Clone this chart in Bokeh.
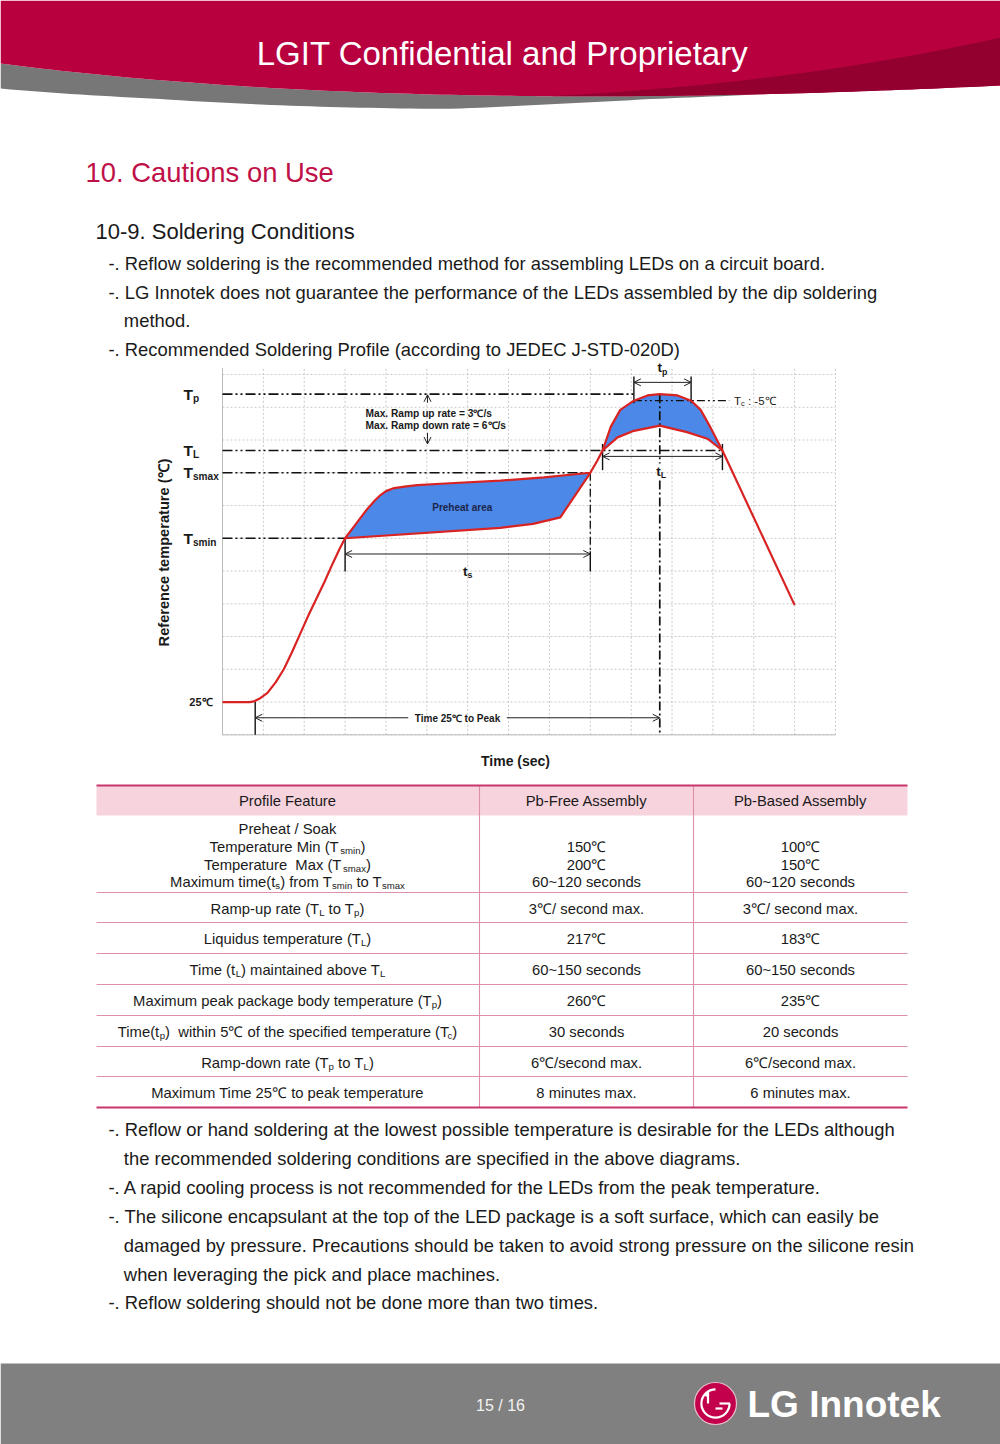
import math
import re
import numpy as np
from bokeh.plotting import figure
from bokeh.models import Range1d, Arrow, OpenHead
from bokeh.core.properties import value
from bokeh.embed import file_html
from bokeh.resources import INLINE

# ---------------- chart data (time in s, temperature in degC) ----------------
T_P, T_C, T_L, T_SMAX, T_SMIN, T_ROOM = 260, 255, 217, 200, 150, 25
level_labels = ["T_{p}", "T_{L}", "T_{smax}", "T_{smin}"]
level_temps = [T_P, T_L, T_SMAX, T_SMIN]

rise_t = [0, 20, 23, 27, 33, 39, 45, 51, 57, 63, 69, 75, 81, 86, 90]
rise_T = [25, 25, 25.5, 27.5, 32, 40, 50, 63, 77, 91, 104, 117, 131, 142, 150]
soak_top_t = [90, 98, 106, 112, 116, 120, 126, 135, 143, 167, 204, 236, 270]
soak_top_T = [150, 161, 172, 179, 183, 186, 188.3, 189.6, 190.5, 192, 194, 196.5, 200]
soak_bot_t = [90, 204, 228, 248, 270]
soak_bot_T = [150, 158, 161, 166, 200]
ramp_t = [270, 275, 279]
ramp_T = [200, 209, 217]
reflow_top_t = [279, 285, 292, 302, 312, 321, 334, 344, 351, 358, 367]
reflow_top_T = [217, 235, 248, 255, 259, 260, 259, 255, 248, 235, 217]
reflow_bot_t = [279, 290, 302, 321, 341, 356, 367]
reflow_bot_T = [217, 227, 232, 236, 231, 226, 217]
cool_t = [367, 420]
cool_T = [217, 99]

ts_window = [90, 270]
tL_window = [279, 367]
tp_window = [302, 344]
t_peak = 321
t_start = 24

grid_t = list(range(0, 451, 30))
grid_T = list(range(0, 276, 25))

# ---------------- table data ----------------
table_header = ["Profile Feature", "Pb-Free Assembly", "Pb-Based Assembly"]
features = [
    ["Preheat / Soak", "Temperature Min (T_{smin})", "Temperature\u00a0 Max (T_{smax})",
     "Maximum time(t_{s}) from T_{smin} to T_{smax}"],
    ["Ramp-up rate (T_{L} to T_{p})"],
    ["Liquidus temperature (T_{L})"],
    ["Time (t_{L}) maintained above T_{L}"],
    ["Maximum peak package body temperature (T_{p})"],
    ["Time(t_{p})\u00a0 within 5℃ of the specified temperature (T_{c})"],
    ["Ramp-down rate (T_{p} to T_{L})"],
    ["Maximum Time 25℃ to peak temperature"],
]
pb_free = [["", "150℃", "200℃", "60~120 seconds"], ["3℃/ second max."], ["217℃"],
           ["60~150 seconds"], ["260℃"], ["30 seconds"], ["6℃/second max."], ["8 minutes max."]]
pb_based = [["", "100℃", "150℃", "60~120 seconds"], ["3℃/ second max."], ["183℃"],
            ["60~150 seconds"], ["235℃"], ["20 seconds"], ["6℃/second max."], ["6 minutes max."]]

bullets_top = [
    "-. Reflow soldering is the recommended method for assembling LEDs on a circuit board.",
    "-. LG Innotek does not guarantee the performance of the LEDs assembled by the dip soldering",
    "   method.",
    "-. Recommended Soldering Profile (according to JEDEC J-STD-020D)",
]
bullets_bottom = [
    "-. Reflow or hand soldering at the lowest possible temperature is desirable for the LEDs although",
    "   the recommended soldering conditions are specified in the above diagrams.",
    "-. A rapid cooling process is not recommended for the LEDs from the peak temperature.",
    "-. The silicone encapsulant at the top of the LED package is a soft surface, which can easily be",
    "   damaged by pressure. Precautions should be taken to avoid strong pressure on the silicone resin",
    "   when leveraging the pick and place machines.",
    "-. Reflow soldering should not be done more than two times.",
]

# ---------------- styling ----------------
FONT = "Liberation Sans"
RED = "#d92323"
BLUE = "#4c88e8"
CRIMSON = "#b8003f"
DARK_CRIMSON = "#930030"
TXT = "#1a1a1a"

REG_W = {' ': 278, '\u00a0': 278, '!': 278, '(': 333, ')': 333, '+': 584, ',': 278, '-': 333,
         '.': 278, '/': 278, ':': 278, '=': 584, '~': 584, '℃': 900, '_': 556,
         'A': 667, 'B': 667, 'C': 722, 'D': 722, 'E': 667, 'F': 611, 'G': 778, 'H': 722, 'I': 278,
         'J': 500, 'K': 667, 'L': 556, 'M': 833, 'N': 722, 'O': 778, 'P': 667, 'Q': 778, 'R': 722,
         'S': 667, 'T': 611, 'U': 722, 'V': 667, 'W': 944, 'X': 667, 'Y': 667, 'Z': 611,
         'a': 556, 'b': 556, 'c': 500, 'd': 556, 'e': 556, 'f': 278, 'g': 556, 'h': 556, 'i': 222,
         'j': 222, 'k': 500, 'l': 222, 'm': 833, 'n': 556, 'o': 556, 'p': 556, 'q': 556, 'r': 333,
         's': 500, 't': 278, 'u': 556, 'v': 500, 'w': 722, 'x': 500, 'y': 500, 'z': 500}
BOLD_W = dict(REG_W)
BOLD_W.update({'t': 333, 'i': 278, 'l': 278, 'm': 889, 'p': 611, 'r': 389, 's': 556, 'c': 556,
               'n': 611, 'o': 611, 'u': 611, 'k': 556, 'h': 611, 'd': 611, 'f': 333, 'L': 611,
               'b': 611, 'g': 611, 'x': 556, 'y': 556, 'w': 778})

p = figure(width=1000, height=1444, x_range=Range1d(0, 1000), y_range=Range1d(1444, 0),
           output_backend="svg", toolbar_location=None, min_border=0,
           x_axis_type=None, y_axis_type=None, outline_line_color=None,
           background_fill_color="white", border_fill_color="white")
p.grid.visible = False

# chart scales: time axis and temperature axis mapped onto the chart box of the page
PX_T0, PX_T1, T_SPAN = 222.0, 835.0, 450.0
PY_0, PY_TOP, TEMP_TOP = 734.3, 374.0, 275.0
s_per_px = T_SPAN / (PX_T1 - PX_T0)
d_per_px = TEMP_TOP / (PY_0 - PY_TOP)
p.extra_x_ranges = {"t": Range1d(start=-PX_T0 * s_per_px, end=(1000 - PX_T0) * s_per_px)}
p.extra_y_ranges = {"T": Range1d(start=-(1444 - PY_0) * d_per_px, end=PY_0 * d_per_px)}
C = dict(x_range_name="t", y_range_name="T")


def tw(s, size, bold=False):
    w = BOLD_W if bold else REG_W
    return sum(w.get(ch, 556) for ch in s) * size / 1000.0


def parse(markup):
    segs, pos = [], 0
    for m in re.finditer(r"_\{([^}]*)\}", markup):
        if m.start() > pos:
            segs.append((markup[pos:m.start()], False))
        segs.append((m.group(1), True))
        pos = m.end()
    if pos < len(markup):
        segs.append((markup[pos:], False))
    return segs


def put(x, y, txt, s, color, bold, align, xr, yr, font, angle=0.0, xo=0.0, yo=0.0):
    p.text(x=[x], y=[y], text=[txt], x_offset=xo, y_offset=yo,
           text_font=value(font), text_font_size=value(f"{s:.1f}px"),
           text_font_style="bold" if bold else "normal", text_color=color,
           text_align=align, text_baseline="middle", angle=angle,
           x_range_name=xr, y_range_name=yr)


def rich(x, y, markup, size, color=TXT, bold=False, align="left", xr="default", yr="default",
         font=FONT, sub_scale=0.65, angle=0.0):
    segs = parse(markup)
    if len(segs) == 1 and not segs[0][1]:
        t = segs[0][0]
        lead = len(t) - len(t.lstrip(" "))
        put(x, y, t.strip(" "), size, color, bold, align, xr, yr, font, angle,
            xo=tw(" " * lead, size, bold))
        return
    sizes = [size * sub_scale if sub else size for _, sub in segs]
    widths = [tw(t, s, bold) for (t, _), s in zip(segs, sizes)]
    total = sum(widths)
    off = {"left": 0.0, "center": -total / 2.0, "right": -total}[align]
    for (t, sub), s, w in zip(segs, sizes, widths):
        lead = len(t) - len(t.lstrip(" "))
        txt = t.strip(" ")
        if txt:
            put(x, y, txt, s, color, bold, "left", xr, yr, font,
                xo=off + tw(" " * lead, s, bold), yo=(0.27 * size if sub else 0.0))
        off += w


# ---------------- header ----------------
xs = np.linspace(0, 1000, 101)
red_bot = np.polyval(np.polyfit([0, 150, 300, 450, 550, 700, 850, 1000],
                                [63, 79, 89, 94, 96, 95, 91, 85], 4), xs)
gray_th = np.interp(xs, [0, 150, 300, 450, 550, 650, 760, 1000], [25, 19, 16.5, 14, 8, 3, 0, 0])
gray_bot = red_bot + gray_th
xs_l, red_l, gray_l = list(xs), list(red_bot), list(gray_bot)
p.patch(xs_l + xs_l[::-1], gray_l + red_l[::-1], fill_color="#777777", line_color=None)
p.patch([0, 1000] + xs_l[::-1], [0, 0] + red_l[::-1], fill_color=CRIMSON, line_color=None)
xd = np.linspace(540, 1000, 47)
dark_top = np.polyval(np.polyfit([540, 600, 700, 800, 900, 1000], [96, 93, 84, 73, 57, 37], 3), xd)
dark_bot = np.polyval(np.polyfit([0, 150, 300, 450, 550, 700, 850, 1000],
                                 [63, 79, 89, 94, 96, 95, 91, 85], 4), xd)
dark_top = np.minimum(dark_top, dark_bot)
p.patch(list(xd) + list(xd[::-1]), list(dark_top) + list(dark_bot[::-1]),
        fill_color=DARK_CRIMSON, line_color=None)
rich(502, 53, "LGIT Confidential and Proprietary", 33, color="white", align="center")

# ---------------- headings and text ----------------
rich(85, 172, "10. Cautions on Use", 27.4, color="#c01048")
rich(95, 231, "10-9. Soldering Conditions", 22)
for i, line in enumerate(bullets_top):
    rich(108, 263 + i * 28.7, line, 18.4)
for i, line in enumerate(bullets_bottom):
    rich(108, 1129 + i * 28.9, line, 18.4)

# ---------------- chart ----------------
GRID_COLOR = "#c9c9c9"
p.segment(x0=grid_t, y0=[0] * len(grid_t), x1=grid_t, y1=[TEMP_TOP + 5] * len(grid_t),
          line_color=GRID_COLOR, line_dash="2 2", line_width=1, **C)
p.segment(x0=[0] * len(grid_T), y0=grid_T, x1=[T_SPAN] * len(grid_T), y1=grid_T,
          line_color=GRID_COLOR, line_dash="2 2", line_width=1, **C)
p.segment(x0=[0, 0], y0=[0, 0], x1=[0, T_SPAN], y1=[TEMP_TOP + 5, 0],
          line_color="#bdbdbd", line_width=1, **C)

# blue windows
p.patch(soak_top_t + soak_bot_t[::-1], soak_top_T + soak_bot_T[::-1], fill_color=BLUE,
        line_color=None, **C)
p.patch(reflow_top_t + reflow_bot_t[::-1], reflow_top_T + reflow_bot_T[::-1], fill_color=BLUE,
        line_color=None, **C)

# dash-dot reference lines
DD = "10 3 2 3 2 3"
ref_end = [tp_window[0], tL_window[1], ts_window[1], ts_window[0]]
p.segment(x0=[0] * 4, y0=level_temps, x1=ref_end, y1=level_temps, line_color="#111111",
          line_width=1.7, line_dash=DD, **C)
p.segment(x0=[tp_window[0]], y0=[T_C], x1=[372], y1=[T_C], line_color="#111111",
          line_width=1.3, line_dash="8 3 2 3 2 3", **C)
p.segment(x0=[t_peak, t_peak], y0=[T_P, 194], x1=[t_peak, t_peak], y1=[207, 0],
          line_color="#111111", line_width=1.7, line_dash="9 3 2 3", **C)
p.segment(x0=[ts_window[1]], y0=[T_SMAX], x1=[ts_window[1]], y1=[140], line_color="#111111",
          line_width=1.3, line_dash="8 3 2 3", **C)

# solid bars
bar_y_low = T_SMIN - 25.4
p.segment(x0=[ts_window[0], ts_window[1], tL_window[0], tL_window[1], tp_window[0], tp_window[1], t_start],
          y0=[T_SMIN, 140, T_L + 5, T_L + 5, 273.5, 273.5, T_ROOM],
          x1=[ts_window[0], ts_window[1], tL_window[0], tL_window[1], tp_window[0], tp_window[1], t_start],
          y1=[bar_y_low, bar_y_low, 202, 202, 253, 253, 0],
          line_color="#111111", line_width=1.4, **C)

# red profile
prof_t = rise_t + soak_top_t[1:] + ramp_t[1:] + reflow_top_t[1:] + cool_t[1:]
prof_T = rise_T + soak_top_T[1:] + ramp_T[1:] + reflow_top_T[1:] + cool_T[1:]
p.line(prof_t, prof_T, line_color=RED, line_width=2.2, line_join="round", **C)
p.line(soak_bot_t, soak_bot_T, line_color=RED, line_width=2.2, line_join="round", **C)
p.line(reflow_bot_t, reflow_bot_T, line_color=RED, line_width=2.2, line_join="round", **C)


def arrow(x0, y0, x1, y1, both=True):
    a = Arrow(x_start=x0, y_start=y0, x_end=x1, y_end=y1, line_width=1, line_color="#222222",
              end=OpenHead(size=7, line_width=1, line_color="#222222"),
              start=OpenHead(size=7, line_width=1, line_color="#222222") if both else None,
              x_range_name="t", y_range_name="T")
    p.add_layout(a)


y_ts = T_SMIN - 12.0
arrow(ts_window[0], y_ts, ts_window[1], y_ts)
arrow(tL_window[0], T_L - 4.5, tL_window[1], T_L - 4.5)
arrow(tp_window[0], 269, tp_window[1], 269)
# time 25C to peak
t_mid = (t_start + t_peak) / 2.0
lab = "Time 25℃ to Peak"
half_gap = (tw(lab, 10, True) / 2 + 7) * s_per_px
arrow(t_mid - half_gap, 13, t_start, 13, both=False)
arrow(t_mid + half_gap, 13, t_peak, 13, both=False)
rich(t_mid, 12.5, lab, 10, bold=True, align="center", xr="t", yr="T")
# ramp rate arrows
t_ramp = 150.5
arrow(t_ramp, 253.5, t_ramp, 259.5, both=False)
arrow(t_ramp, 230.5, t_ramp, 222, both=False)
rich(105, 245.5, "Max. Ramp up rate = 3℃/s", 10.2, bold=True, xr="t", yr="T")
rich(105, 236.3, "Max. Ramp down rate = 6℃/s", 10.2, bold=True, xr="t", yr="T")
rich(sum(ts_window) / 2 - 4, 173.5, "Preheat area", 10, bold=True, color="#1c2548", align="center",
     xr="t", yr="T")
rich(sum(ts_window) / 2, 125, "t_{s}", 13.5, bold=True, align="center", xr="t", yr="T")
rich(t_peak + 1, 201, "t_{L}", 13.5, bold=True, align="center", xr="t", yr="T")
rich(sum(tp_window) / 2, 280, "t_{p}", 13.5, bold=True, align="center", xr="t", yr="T")
rich(375.5, T_C, "T_{c} : -5℃", 11.5, xr="t", yr="T")

# y level labels
for lab_, temp in zip(level_labels, level_temps):
    rich(183, temp, lab_, 15.5, bold=True, yr="T")
rich(212, T_ROOM, "25℃", 11, bold=True, align="right", yr="T")
rich(163, 552, "Reference temperature (℃)", 14.6, bold=True, align="center", angle=math.pi / 2)
rich(515, 760, "Time (sec)", 14, bold=True, align="center")

# ---------------- table ----------------
TBL_X0, TBL_X1 = 96, 907
COL_SEP = [479, 693]
COL_CX = [287, 586, 800]
HDR_TOP, HDR_BOT = 785, 815
row_bounds = [815, 892, 922, 953, 984, 1015, 1046, 1076, 1107]
p.quad(left=[TBL_X0], right=[TBL_X1], top=[HDR_TOP], bottom=[HDR_BOT], fill_color="#f6d3dd",
       line_color=None)
p.segment(x0=[TBL_X0] * 7, y0=row_bounds[1:-1], x1=[TBL_X1] * 7, y1=row_bounds[1:-1],
          line_color="#de8fad", line_width=1.2)
p.segment(x0=COL_SEP, y0=[HDR_TOP] * 2, x1=COL_SEP, y1=[row_bounds[-1]] * 2,
          line_color="#e08eae", line_width=1.1)
p.segment(x0=[TBL_X0, TBL_X0], y0=[HDR_TOP, row_bounds[-1]], x1=[TBL_X1, TBL_X1],
          y1=[HDR_TOP, row_bounds[-1]], line_color="#c9346c", line_width=2)

for cx, h in zip(COL_CX, table_header):
    rich(cx, 800.5, h, 14.8, align="center")

FS = 14.8
multi_ys = [828, 846, 864, 881]
for r, (feat, v1, v2) in enumerate(zip(features, pb_free, pb_based)):
    if len(feat) > 1:
        ys = multi_ys
    else:
        ys = [(row_bounds[r] + row_bounds[r + 1]) / 2.0 + 1.0]
    for col, cells in enumerate([feat, v1, v2]):
        for yy, cell in zip(ys, cells):
            if cell:
                rich(COL_CX[col], yy, cell, FS, align="center")

# ---------------- footer ----------------
p.quad(left=[0], right=[1000], top=[1363], bottom=[1444], fill_color="#808080", line_color=None)
rich(500, 1405, "15 / 16", 16, color="#f2f2f2", align="center")
p.circle(x=[715], y=[1403], radius=21, fill_color="#c3004b", line_color="#e8c0cc", line_width=1.2)
p.annular_wedge(x=[715], y=[1403], inner_radius=13, outer_radius=15.2,
                start_angle=math.radians(90), end_angle=math.radians(360), direction="anticlock",
                fill_color="white", line_color=None)
p.segment(x0=[707.5, 715], y0=[1403, 1408], x1=[707.5, 722], y1=[1391, 1408], line_color="white",
          line_width=2.2)
p.segment(x0=[719], y0=[1403], x1=[729.5], y1=[1403], line_color="white", line_width=2.2)
p.circle(x=[706.5], y=[1394], radius=2.2, fill_color="white", line_color=None)
rich(747, 1404, "LG Innotek", 37, color="white", bold=True)

open("out.html", "w").write(file_html(p, INLINE))
